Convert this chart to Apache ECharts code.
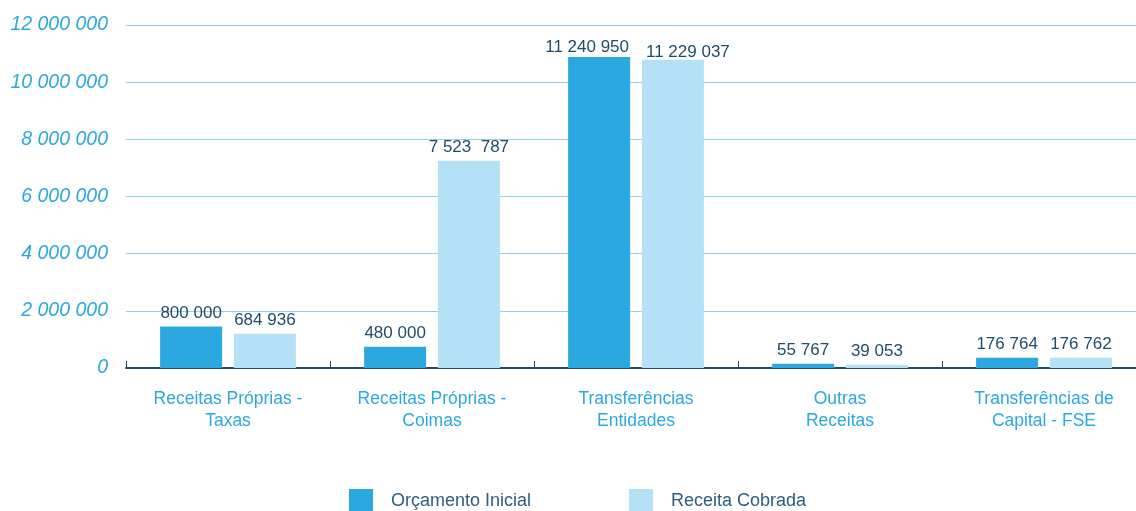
<!DOCTYPE html>
<html>
<head>
<meta charset="utf-8">
<script src="https://cdn.jsdelivr.net/npm/echarts@6/dist/echarts.min.js"></script>
<style>
html,body{margin:0;padding:0;background:#fff;overflow:hidden;}
#c{width:1146px;height:511px;}
</style>
</head>
<body>
<div id="c"></div>
<script>
const categories = [
  "Receitas Próprias -\nTaxas",
  "Receitas Próprias -\nCoimas",
  "Transferências\nEntidades",
  "Outras\nReceitas",
  "Transferências de\nCapital - FSE"
];
const seriesNames = ["Orçamento Inicial", "Receita Cobrada"];
// bar heights as drawn in the picture
const orcamentoHeights = [1450000, 745000, 10880000, 150000, 360000];
const receitaHeights = [1200000, 7250000, 10780000, 115000, 360000];
// value labels as printed
const orcamentoLabels = ["800 000", "480 000", "11 240 950", "55 767", "176 764"];
const receitaLabels = ["684 936", "7 523  787", "11 229 037", "39 053", "176 762"];
const yTicks = { min: 0, max: 12000000, interval: 2000000 };

const fontFamily = "'Liberation Sans', Arial, Helvetica, sans-serif";
const chart = echarts.init(document.getElementById('c'));
const fmt = v => String(v).replace(/\B(?=(\d{3})+(?!\d))/g, ' ');

const labelBase = { show: true, position: 'top', distance: 5, color: '#1e4c6a', fontSize: 17, fontFamily: fontFamily };

function withLabels(heights, labels, offsets) {
  return heights.map((v, i) => {
    const item = { value: v };
    if (offsets[i]) item.label = { offset: offsets[i] };
    return item;
  });
}

chart.setOption({
  animation: false,
  textStyle: { fontFamily: fontFamily },
  grid: { left: 126, right: 0, top: 25, bottom: 143 },
  legend: {
    left: 349, top: 489, padding: 0,
    itemWidth: 24, itemHeight: 24, itemGap: 98,
    icon: 'rect',
    data: seriesNames,
    textStyle: { color: '#2d5e7e', fontSize: 18, fontFamily: fontFamily, padding: [0, 0, 0, 13] }
  },
  xAxis: {
    type: 'category',
    data: categories,
    axisLine: { lineStyle: { color: '#1d4f6c', width: 2 } },
    axisTick: { show: true, inside: true, length: 7, lineStyle: { color: '#1d4f6c', width: 1 } },
    axisLabel: { color: '#2ba8e0', fontSize: 17.5, lineHeight: 22, margin: 20, fontFamily: fontFamily }
  },
  yAxis: {
    type: 'value',
    min: yTicks.min, max: yTicks.max, interval: yTicks.interval,
    axisLine: { show: false },
    axisTick: { show: false },
    splitLine: { lineStyle: { color: '#92d2ef', width: 1 } },
    axisLabel: { color: '#2ba8e0', fontSize: 19.5, fontStyle: 'italic', margin: 18, formatter: fmt, fontFamily: fontFamily }
  },
  series: [
    {
      name: seriesNames[0], type: 'bar',
      data: withLabels(orcamentoHeights, orcamentoLabels, [null, null, [-12, 4], null, null]),
      barWidth: 62, barGap: '19%',
      itemStyle: { color: '#2ca8e0' },
      label: Object.assign({}, labelBase, { formatter: p => orcamentoLabels[p.dataIndex] })
    },
    {
      name: seriesNames[1], type: 'bar',
      data: withLabels(receitaHeights, receitaLabels, [null, null, [15, 6], null, null]),
      barWidth: 62,
      itemStyle: { color: '#b4e1f6' },
      label: Object.assign({}, labelBase, { formatter: p => receitaLabels[p.dataIndex] })
    }
  ]
});
</script>
</body>
</html>
